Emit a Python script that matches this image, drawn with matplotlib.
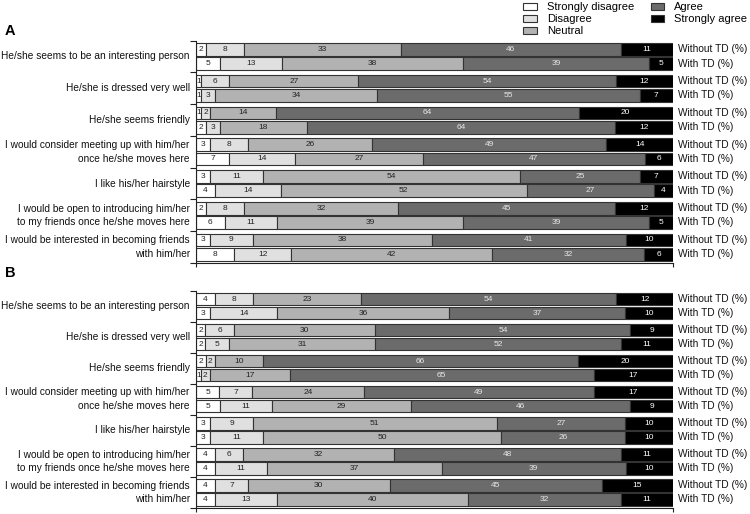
import matplotlib
matplotlib.use("Agg")
import matplotlib.pyplot as plt
from matplotlib.patches import Patch
from matplotlib.transforms import blended_transform_factory
import numpy as np

plt.rcParams['font.family'] = ['Liberation Sans', 'DejaVu Sans']

questions = [
    "He/she seems to be an interesting person",
    "He/she is dressed very well",
    "He/she seems friendly",
    "I would consider meeting up with him/her\nonce he/she moves here",
    "I like his/her hairstyle",
    "I would be open to introducing him/her\nto my friends once he/she moves here",
    "I would be interested in becoming friends\nwith him/her",
]
categories = ["Strongly disagree", "Disagree", "Neutral", "Agree", "Strongly agree"]
row_labels = ["Without TD (%)", "With TD (%)"]

# Panel A: [question][row] -> 5 category percentages
panel_a_without = [
    [2, 8, 33, 46, 11],
    [1, 6, 27, 54, 12],
    [1, 2, 14, 64, 20],
    [3, 8, 26, 49, 14],
    [3, 11, 54, 25, 7],
    [2, 8, 32, 45, 12],
    [3, 9, 38, 41, 10],
]
panel_a_with = [
    [5, 13, 38, 39, 5],
    [1, 3, 34, 55, 7],
    [2, 3, 18, 64, 12],
    [7, 14, 27, 47, 6],
    [4, 14, 52, 27, 4],
    [6, 11, 39, 39, 5],
    [8, 12, 42, 32, 6],
]
panel_b_without = [
    [4, 8, 23, 54, 12],
    [2, 6, 30, 54, 9],
    [2, 2, 10, 66, 20],
    [5, 7, 24, 49, 17],
    [3, 9, 51, 27, 10],
    [4, 6, 32, 48, 11],
    [4, 7, 30, 45, 15],
]
panel_b_with = [
    [3, 14, 36, 37, 10],
    [2, 5, 31, 52, 11],
    [1, 2, 17, 65, 17],
    [5, 11, 29, 46, 9],
    [3, 11, 50, 26, 10],
    [4, 11, 37, 39, 10],
    [4, 13, 40, 32, 11],
]

colors = ["#ffffff", "#e0e0e0", "#b2b2b2", "#6b6b6b", "#000000"]
text_colors = ["#222222", "#222222", "#222222", "#e8e8e8", "#ffffff"]
edge = "#333333"
FS = 7.25

W, H = 750, 514
fig = plt.figure(figsize=(W / 100, H / 100), dpi=100)


def draw_panel(rect_px, without, with_, letter, letter_y):
    x0, top, x1, bot = rect_px
    ax = fig.add_axes([x0 / W, 1 - bot / H, (x1 - x0) / W, (bot - top) / H])
    n = len(questions)
    bar_h = 0.40
    offs = [-0.225, 0.225]
    tr_r = blended_transform_factory(ax.transAxes, ax.transData)
    for qi in range(n):
        for ri, data in enumerate([without, with_]):
            vals = np.array(data[qi], dtype=float)
            widths = vals / vals.sum() * 100
            left = 0.0
            y = qi + offs[ri]
            for ci, (v, w) in enumerate(zip(vals, widths)):
                ax.barh(y, w, left=left, height=bar_h, color=colors[ci],
                        edgecolor=edge, linewidth=0.8)
                ax.text(left + w / 2, y, f"{int(v)}", ha="center", va="center",
                        fontsize=6.0, color=text_colors[ci])
                left += w
            ax.text(1.011, y, row_labels[ri], transform=tr_r,
                    ha="left", va="center", fontsize=7.3, color="#111111")
        ax.text(-0.013, qi, questions[qi], transform=tr_r,
                ha="right", va="center", fontsize=FS, color="#111111", linespacing=1.45)
    ax.set_xlim(0, 100)
    ax.set_ylim(n - 0.5, -0.5)
    ax.set_yticks(np.arange(-0.5, n, 1.0))
    ax.set_yticklabels([])
    ax.set_xticks([0, 100])
    ax.set_xticklabels([])
    ax.tick_params(axis="y", length=4, width=0.8, direction="out", color="#222222")
    ax.tick_params(axis="x", length=3, width=0.8, direction="out", color="#222222")
    for s in ["top", "right"]:
        ax.spines[s].set_visible(False)
    for s in ["left", "bottom"]:
        ax.spines[s].set_linewidth(0.8)
        ax.spines[s].set_color("#222222")
    fig.text(5 / W, 1 - letter_y / H, letter, fontsize=10.5, fontweight="bold", ha="left", va="center")
    return ax


draw_panel((196, 40.6, 673, 263), panel_a_without, panel_a_with, "A", 31)
draw_panel((196, 290.5, 673, 508), panel_b_without, panel_b_with, "B", 273)

handles = [Patch(facecolor=c, edgecolor=edge, linewidth=0.8) for c in colors]
fig.legend(handles, categories, ncol=2, loc="upper right", bbox_to_anchor=(1.004, 1.006),
           frameon=False, fontsize=8.0, handlelength=1.25, handleheight=0.7,
           handletextpad=0.9, columnspacing=1.45, labelspacing=0.18, borderaxespad=0.1)

fig.savefig("out.png", dpi=100)
